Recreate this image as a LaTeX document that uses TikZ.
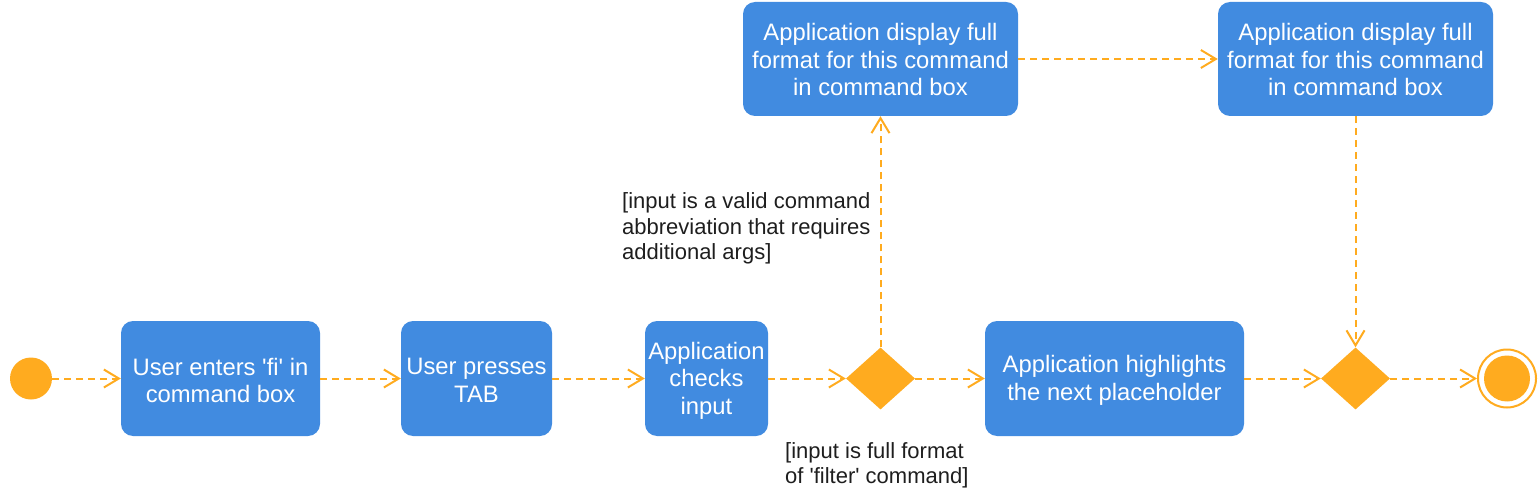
\documentclass[tikz,border=0pt]{standalone}
\usepackage{fontspec}
\setmainfont{Liberation Sans}
\usetikzlibrary{shapes.geometric,arrows.meta}
\definecolor{boxblue}{HTML}{418BE0}
\definecolor{flow}{HTML}{FFAB1F}
\definecolor{labtext}{HTML}{1E1E1E}
\newcommand{\sq}{\textquotesingle}
\tikzset{
  act/.style={draw=none, fill=boxblue, rounded corners=12pt, inner sep=0pt},
  acttext/.style={text=white, align=center, font=\fontsize{23.8}{27.5}\selectfont, inner sep=0pt},
  decision/.style={diamond, fill=flow, draw=none, inner sep=0pt, minimum width=69pt, minimum height=62pt},
  flowline/.style={draw=flow, line width=2pt, dash pattern=on 7pt off 5pt,
    -{Straight Barb[length=15pt,width=18pt,line width=2pt]}},
  guard/.style={text=labtext, align=left, font=\fontsize{22}{25.5}\selectfont, inner sep=0pt}
}
\begin{document}
\begin{tikzpicture}[x=1pt,y=-1pt]
\useasboundingbox (0,0) rectangle (1538,494);
\node[circle, fill=flow, minimum size=42pt, inner sep=0pt] (start) at (31,378.5) {};
\node[act, minimum width=199pt, minimum height=115pt] (b1) at (220.5,378.5) {};
\node[act, minimum width=151pt, minimum height=115pt] (b2) at (476.5,378.5) {};
\node[act, minimum width=123pt, minimum height=115pt] (b3) at (706.5,378.5) {};
\node[decision] (d1) at (880.5,378.5) {};
\node[act, minimum width=259pt, minimum height=115pt] (b4) at (1114.5,378.5) {};
\node[decision] (d2) at (1355.5,378.5) {};
\node[circle, draw=flow, line width=2pt, fill=white, minimum size=58pt, inner sep=0pt] (endo) at (1507,378.5) {};
\node[circle, fill=flow, minimum size=46pt, inner sep=0pt] (endi) at (1507,378.5) {};
\node[act, minimum width=275pt, minimum height=114pt] (ta) at (880.5,59) {};
\node[act, minimum width=275pt, minimum height=114pt] (tb) at (1355.5,59) {};
% box texts
\node[acttext] (b1t) at (220.5,380.5) {User enters \sq fi\sq{} in\\command box};
\node[acttext] (b2t) at (476.5,380.5) {User presses\\TAB};
\node[acttext] (b3t) at (706.5,380.5) {Application\\checks\\input};
\node[acttext] (b4t) at (1114.5,380.5) {Application highlights\\the next placeholder};
\node[acttext] (tat) at (880.5,59.5) {Application display full\\format for this command\\in command box};
\node[acttext] (tbt) at (1355.5,59.5) {Application display full\\format for this command\\in command box};
\node[guard, anchor=west] (g1) at (622,228.5) {[input is a valid command\\abbreviation that requires\\additional args]};
\node[guard, anchor=west] (g2) at (785,465.5) {[input is full format\\of \sq filter\sq{} command]};
\draw[flowline] (start) -- (b1);
\draw[flowline] (b1) -- (b2);
\draw[flowline] (b2) -- (b3);
\draw[flowline] (b3) -- (d1);
\draw[flowline] (d1) -- (b4);
\draw[flowline] (b4) -- (d2);
\draw[flowline] (d2) -- (endo);
\draw[flowline] (d1.north) -- (ta.south);
\draw[flowline] (ta) -- (tb);
\draw[flowline] (tb.south) -- (d2.north);
\end{tikzpicture}
\end{document}
